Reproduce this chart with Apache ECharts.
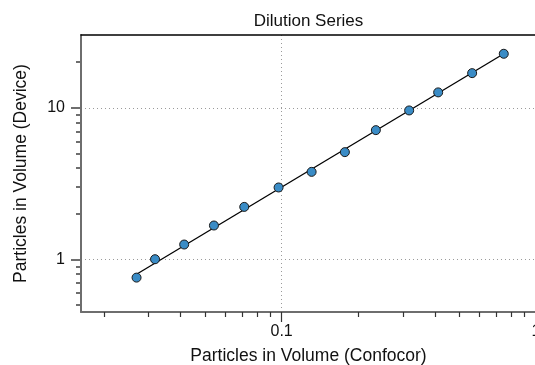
<!DOCTYPE html>
<html>
<head>
<meta charset="utf-8">
<script src="https://cdn.jsdelivr.net/npm/echarts@6/dist/echarts.min.js"></script>
<style>
html,body{margin:0;padding:0;background:#fff;}
#chart{width:535px;height:365px;}
</style>
</head>
<body>
<div id="chart"></div>
<script>
// Data
var confocor = [0.0269, 0.0318, 0.0414, 0.0542, 0.0713, 0.0973, 0.1312, 0.1773, 0.2347, 0.3172, 0.4125, 0.561, 0.747];
var device   = [0.760, 1.005, 1.256, 1.676, 2.223, 2.985, 3.783, 5.104, 7.127, 9.61, 12.64, 16.93, 22.71];
var fitX = [0.0269, 0.747];
var fitY = [0.80, 22.71];
var xMajorTicks = [0.1, 1];
var xMinorTicks = [0.02, 0.03, 0.04, 0.05, 0.06, 0.07, 0.08, 0.09, 0.2, 0.3, 0.4, 0.5, 0.6, 0.7, 0.8, 0.9];
var yMajorTicks = [1, 10];
var yMinorTicks = [0.5, 0.6, 0.7, 0.8, 0.9, 2, 3, 4, 5, 6, 7, 8, 9, 20];
var xRange = [0.01627, 1];
var yRange = [0.451, 30.2];

var FONT = 'Liberation Sans';
var axisGray = '#6e6e6e';

var scatterData = confocor.map(function (x, i) { return [x, device[i]]; });
var fitData = fitX.map(function (x, i) { return [x, fitY[i]]; });

var chart = echarts.init(document.getElementById('chart'), null, {renderer: 'canvas'});
chart.setOption({
  animation: false,
  backgroundColor: '#ffffff',
  grid: {left: 81, top: 35, right: -1, bottom: 53, containLabel: false, outerBoundsMode: 'none'},
  xAxis: [
    {
      type: 'log', min: xRange[0], max: xRange[1], position: 'bottom',
      name: 'Particles in Volume (Confocor)', nameLocation: 'middle', nameGap: 35,
      nameTextStyle: {fontFamily: FONT, fontSize: 17.5, color: '#111'},
      axisLine: {show: true, lineStyle: {color: axisGray, width: 2}},
      axisTick: {show: true, customValues: xMajorTicks, length: 10, lineStyle: {color: '#333', width: 1.2}},
      axisLabel: {show: true, customValues: xMajorTicks, margin: 12, fontFamily: FONT, fontSize: 16, color: '#111',
        formatter: function (v) { return String(+v.toPrecision(6)); }},
      splitLine: {show: true, lineStyle: {color: '#9a9a9a', type: [1, 3], width: 1}}
    },
    {
      type: 'log', min: xRange[0], max: xRange[1], position: 'bottom',
      axisLine: {show: false},
      axisTick: {show: true, customValues: xMinorTicks, length: 5, lineStyle: {color: '#333', width: 1.2}},
      axisLabel: {show: false},
      splitLine: {show: false}
    },
    {
      type: 'log', min: xRange[0], max: xRange[1], position: 'top',
      name: 'Dilution Series', nameLocation: 'middle', nameGap: 5,
      nameTextStyle: {fontFamily: FONT, fontSize: 17, color: '#111'},
      axisLine: {show: true, lineStyle: {color: '#000', width: 1.5}},
      axisTick: {show: false}, axisLabel: {show: false}, splitLine: {show: false}
    }
  ],
  yAxis: [
    {
      type: 'log', min: yRange[0], max: yRange[1], position: 'left',
      name: 'Particles in Volume (Device)', nameLocation: 'middle', nameGap: 51,
      nameTextStyle: {fontFamily: FONT, fontSize: 17.5, color: '#111'},
      axisLine: {show: true, lineStyle: {color: axisGray, width: 2}},
      axisTick: {show: true, customValues: yMajorTicks, length: 10, lineStyle: {color: axisGray, width: 2}},
      axisLabel: {show: true, customValues: yMajorTicks, margin: 16, fontFamily: FONT, fontSize: 16, color: '#111',
        formatter: function (v) { return String(+v.toPrecision(6)); }},
      splitLine: {show: true, lineStyle: {color: '#9a9a9a', type: [1, 3], width: 1}}
    },
    {
      type: 'log', min: yRange[0], max: yRange[1], position: 'left',
      axisLine: {show: false},
      axisTick: {show: true, customValues: yMinorTicks, length: 5, lineStyle: {color: axisGray, width: 2}},
      axisLabel: {show: false},
      splitLine: {show: false}
    }
  ],
  series: [
    {
      type: 'line', xAxisIndex: 0, yAxisIndex: 0, data: fitData,
      showSymbol: false, symbol: 'none',
      lineStyle: {color: '#000', width: 1.3}, z: 2
    },
    {
      type: 'scatter', xAxisIndex: 0, yAxisIndex: 0, data: scatterData,
      symbol: 'circle', symbolSize: 9,
      itemStyle: {color: '#3a8cc6', borderColor: '#1a1a1a', borderWidth: 1, opacity: 1}, z: 3
    }
  ]
});
</script>
</body>
</html>
